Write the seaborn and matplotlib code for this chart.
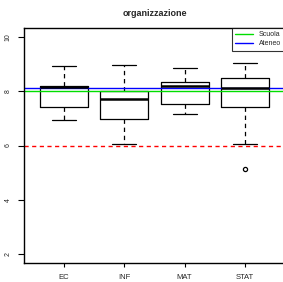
import matplotlib
matplotlib.use("Agg")
import matplotlib.pyplot as plt
import seaborn as sns
import pandas as pd

# Data: per-course scores giving the box summaries
categories = ["EC", "INF", "MAT", "STAT"]
ec_scores   = [6.94, 6.94, 7.43, 7.43, 8.15, 8.17, 8.17, 8.94, 8.94]
inf_scores  = [6.07, 6.07, 6.96, 6.96, 7.70, 8.02, 8.02, 8.97, 8.97]
mat_scores  = [7.15, 7.15, 7.54, 7.54, 8.17, 8.35, 8.35, 8.85, 8.85]
stat_scores = [5.12, 6.05, 7.43, 7.43, 8.10, 8.49, 8.49, 9.05, 9.05]

scuola_ref = 8.02
ateneo_ref = 8.12
soglia = 6.0
legend_labels = ["Scuola", "Ateneo"]
yticks = [2, 4, 6, 8, 10]
title = "organizzazione"

rows = []
for cat, vals in zip(categories, [ec_scores, inf_scores, mat_scores, stat_scores]):
    for v in vals:
        rows.append({"corso": cat, "voto": v})
df = pd.DataFrame(rows)

sns.set_style("white")
plt.rcParams["font.family"] = ["Liberation Sans", "DejaVu Sans"]

fig = plt.figure(figsize=(2.83, 2.82), dpi=100)
ax = fig.add_axes([24.4 / 283, 19 / 282, 260.2 / 283, 235 / 282])

sns.boxplot(data=df, x="corso", y="voto", order=categories, ax=ax,
            width=0.8, fill=False, color="black", linewidth=0.9, whis=1.5,
            boxprops={"linewidth": 0.9},
            whiskerprops={"linestyle": (0, (3.5, 3)), "linewidth": 0.9},
            capprops={"linewidth": 0.9},
            medianprops={"linewidth": 1.8, "color": "black"},
            flierprops={"marker": "o", "markersize": 3, "markerfacecolor": "none",
                        "markeredgecolor": "black", "markeredgewidth": 0.9})

ax.axhline(scuola_ref, color="#00dd00", lw=1.0, label=legend_labels[0])
ax.axhline(ateneo_ref, color="#0000ff", lw=1.0, label=legend_labels[1])
ax.axhline(soglia, color="#ff0000", lw=1.0, linestyle=(0, (3, 2.5)))

ax.set_xlim(-0.66, 3.66)
ax.set_ylim(1.68, 10.32)
ax.set_yticks(yticks)
ax.set_yticklabels([str(t) for t in yticks], rotation=90, va="center", fontsize=5)
ax.tick_params(axis="y", length=4, width=0.8, pad=5, left=True, color="black")
ax.tick_params(axis="x", length=3, width=0.8, pad=5, bottom=True, labelsize=5.5, color="black")
ax.set_xlabel("")
ax.set_ylabel("")
for s in ax.spines.values():
    s.set_color("black")
    s.set_linewidth(1.0)

leg = ax.legend(loc="upper right", fontsize=5, frameon=True, fancybox=False,
                edgecolor="black", borderaxespad=0, handlelength=2.6,
                borderpad=0.5, labelspacing=0.25, handletextpad=0.8,
                bbox_to_anchor=(1.0, 1.0))
leg.get_frame().set_linewidth(0.8)

ax.set_title(title, fontsize=6.5, fontweight="bold", pad=9)

fig.savefig("out.png", dpi=100, facecolor="white")
